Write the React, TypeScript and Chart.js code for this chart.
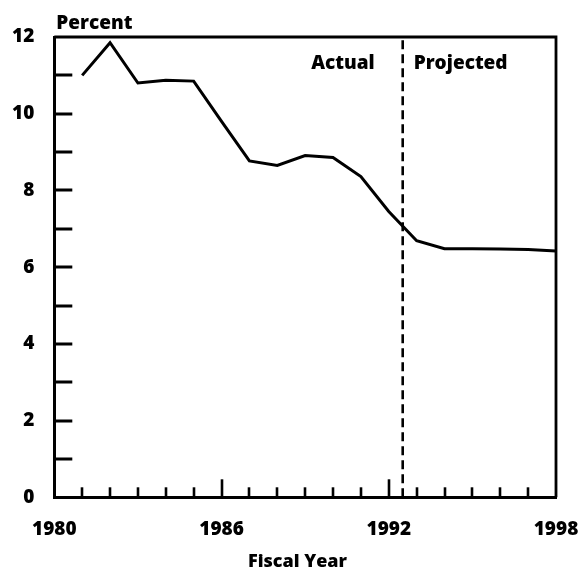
import React, { useEffect, useRef } from "react";
import { Chart, registerables } from "chart.js";

Chart.register(...registerables);

const years = [1981, 1982, 1983, 1984, 1985, 1986, 1987, 1988, 1989, 1990, 1991, 1992, 1993, 1994, 1995, 1996, 1997, 1998];
const percent = [11.0, 11.85, 10.8, 10.87, 10.85, 9.8, 8.77, 8.65, 8.91, 8.86, 8.36, 7.45, 6.69, 6.48, 6.48, 6.47, 6.46, 6.42];
const xLabelYears = [1980, 1986, 1992, 1998];
const yLabelValues = [0, 2, 4, 6, 8, 10, 12];
const dividerYear = 1992.5;
const yTitle = "Percent";
const xTitle = "Fiscal Year";
const leftNote = "Actual";
const rightNote = "Projected";

const FONT = "'Open Sans', 'Liberation Sans', Arial, sans-serif";
const W = 800;

const decor = {
  id: "decor",
  afterDraw(chart: any) {
    const { ctx, chartArea } = chart;
    const xs = chart.scales.x;
    const ys = chart.scales.y;
    const { left, right, top, bottom } = chartArea;
    ctx.save();
    ctx.setLineDash([]);
    ctx.strokeStyle = "#000";
    ctx.fillStyle = "#000";
    ctx.lineCap = "butt";
    ctx.lineWidth = 2.8;
    ctx.beginPath();
    ctx.moveTo(left, top);
    ctx.lineTo(right, top);
    ctx.lineTo(right, bottom);
    ctx.stroke();
    for (let yr = 1981; yr <= 1997; yr++) {
      const px = Math.round(xs.getPixelForValue(yr));
      const len = xLabelYears.includes(yr) ? 18 : 10;
      ctx.fillRect(px - 1.3, bottom - len, 2.6, len);
    }
    for (let v = 1; v <= 11; v++) {
      const py = Math.round(ys.getPixelForValue(v));
      ctx.fillRect(left, py - 1.5, 18, 3);
    }
    ctx.font = `${W} 19px ${FONT}`;
    ctx.textBaseline = "middle";
    ctx.textAlign = "left";
    ctx.fillText(yTitle, left + 2, 24);
    const dx = xs.getPixelForValue(dividerYear);
    const ny = ys.getPixelForValue(11.3);
    ctx.textAlign = "right";
    ctx.fillText(leftNote, dx - 28, ny);
    ctx.textAlign = "left";
    ctx.fillText(rightNote, dx + 11, ny);
    ctx.font = `${W} 18px ${FONT}`;
    ctx.textAlign = "center";
    ctx.fillText(xTitle, 297.5, 562);
    ctx.restore();
  },
};

export default function App() {
  const ref = useRef<HTMLCanvasElement>(null);
  useEffect(() => {
    if (!ref.current) return;
    const chart = new Chart(ref.current, {
      type: "line",
      data: {
        datasets: [
          {
            data: years.map((y, i) => ({ x: y, y: percent[i] })),
            borderColor: "#000",
            borderWidth: 3,
            pointRadius: 0,
            tension: 0,
            fill: false,
          },
          {
            data: [
              { x: dividerYear, y: 0 },
              { x: dividerYear, y: 12 },
            ],
            borderColor: "#000",
            borderWidth: 2.6,
            borderDash: [9, 5],
            pointRadius: 0,
            fill: false,
          },
        ],
      },
      options: {
        responsive: false,
        animation: false,
        events: [],
        layout: { padding: { top: 37, right: 24, left: 0, bottom: 0 } },
        plugins: { legend: { display: false }, tooltip: { enabled: false }, title: { display: false } },
        scales: {
          x: {
            type: "linear",
            min: 1980,
            max: 1998,
            afterFit: (s: any) => {
              s.height = 72.7;
              s.paddingLeft = 0;
              s.paddingRight = 0;
            },
            afterBuildTicks: (s: any) => {
              s.ticks = xLabelYears.map((v) => ({ value: v }));
            },
            grid: { display: false, drawTicks: false },
            border: { display: true, color: "#000", width: 3 },
            ticks: {
              padding: 21,
              color: "#000",
              maxRotation: 0,
              autoSkip: false,
              font: { family: FONT, size: 19, weight: W },
              callback: (v: any) => String(v),
            },
          },
          y: {
            type: "linear",
            min: 0,
            max: 12,
            afterFit: (s: any) => {
              s.width = 54.3;
              s.paddingTop = 0;
              s.paddingBottom = 0;
            },
            afterBuildTicks: (s: any) => {
              s.ticks = yLabelValues.map((v) => ({ value: v }));
            },
            grid: { display: false, drawTicks: false },
            border: { display: true, color: "#000", width: 3 },
            ticks: {
              padding: 20,
              color: "#000",
              autoSkip: false,
              font: { family: FONT, size: 19, weight: W },
              callback: (v: any) => String(v),
            },
          },
        },
      },
      plugins: [decor],
    });
    return () => chart.destroy();
  }, []);
  return (
    <div style={{ position: "absolute", left: 0, top: 0, width: 580, height: 570, background: "#fff" }}>
      <canvas ref={ref} width={580} height={570} />
    </div>
  );
}
